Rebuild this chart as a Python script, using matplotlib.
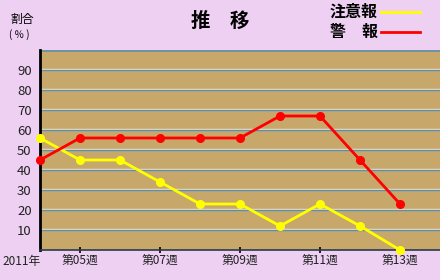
import matplotlib.pyplot as plt

plt.rcParams['font.family'] = ['Noto Sans CJK JP', 'DejaVu Sans']

# data
weeks = [4, 5, 6, 7, 8, 9, 10, 11, 12, 13]
chuiho = [56, 45, 45, 34, 23, 23, 12, 23, 12, 0]
keiho = [45, 56, 56, 56, 56, 56, 67, 67, 45, 23]
tick_weeks = [5, 7, 9, 11, 13]
tick_labels = ["第05週", "第07週", "第09週", "第11週", "第13週"]
y_ticks = [10, 20, 30, 40, 50, 60, 70, 80, 90]

bg = "#edd0f2"
fig = plt.figure(figsize=(4.4, 2.8), dpi=100, facecolor=bg)
ax = fig.add_axes([40 / 440, 30 / 280, 400 / 440, 200 / 280])
ax.set_facecolor("#c8a76b")
ax.set_xlim(4, 14)
ax.set_ylim(0, 100)

# double gridlines: light line just above a steel-blue one
for v in y_ticks:
    ax.axhline(v + 0.6, color="#efe6d0", lw=1.0, zorder=1)
    ax.axhline(v, color="#5b8fb0", lw=1.0, zorder=1)
ax.axhline(99.6, color="#5b8fb0", lw=1.2, zorder=1)

ax.plot(weeks, chuiho, color="#ffff00", lw=2, marker="o", ms=5.5, zorder=3, clip_on=False)
ax.plot(weeks, keiho, color="#ff0000", lw=2, marker="o", ms=5.5, zorder=4, clip_on=False)

for s in ["top", "right"]:
    ax.spines[s].set_visible(False)
ax.spines["left"].set_color("black")
ax.spines["left"].set_linewidth(2)
ax.spines["bottom"].set_color("#2a3a4a")
ax.spines["bottom"].set_linewidth(1.2)

ax.set_yticks(y_ticks)
ax.set_yticklabels([str(v) for v in y_ticks], fontsize=9.5, color="#222222")
ax.tick_params(axis="y", length=0, pad=6)
ax.set_xticks(tick_weeks)
ax.set_xticklabels(tick_labels, fontsize=8.5, color="#222222")
ax.tick_params(axis="x", length=4, width=1.2, direction="inout", pad=1)

fig.text(2 / 440, 1 - 262 / 280, "2011年", fontsize=8.5, color="#222222", va="center")
fig.text(10 / 440, 1 - 19 / 280, "割合", fontsize=8.5, va="center")
fig.text(9 / 440, 1 - 35 / 280, "( ％ )", fontsize=7, va="center")
fig.text(220 / 440, 1 - 21 / 280, "推　移", fontsize=14, fontweight="bold", ha="center", va="center")

fig.text(330 / 440, 1 - 12 / 280, "注意報", fontsize=11.5, fontweight="bold", va="center")
fig.text(330 / 440, 1 - 32 / 280, "警　報", fontsize=11.5, fontweight="bold", va="center")
fig.add_artist(plt.Line2D([381 / 440, 420 / 440], [1 - 12 / 280] * 2, color="#ffff00", lw=2))
fig.add_artist(plt.Line2D([381 / 440, 420 / 440], [1 - 32 / 280] * 2, color="#ff0000", lw=2))

fig.savefig("out.png", dpi=100, facecolor=bg)
